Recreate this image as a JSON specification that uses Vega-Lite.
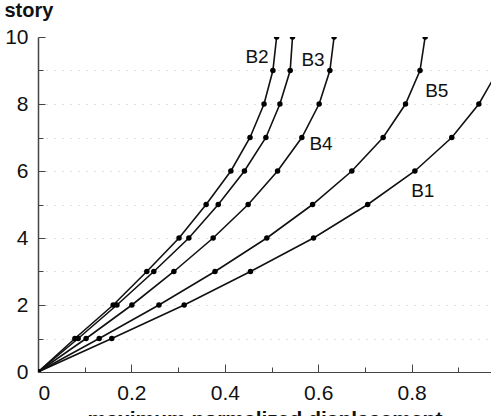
{
  "$schema": "https://vega.github.io/schema/vega-lite/v6.json",
  "autosize": {"type": "none"},
  "padding": {"left": 38, "top": 37, "right": 0, "bottom": 44},
  "width": 453,
  "height": 335,
  "config": {
    "font": "Liberation Sans",
    "view": {"stroke": null},
    "axis": {
      "labelFont": "Liberation Sans",
      "titleFont": "Liberation Sans",
      "labelColor": "#111",
      "titleColor": "#111",
      "domainColor": "#444",
      "tickColor": "#444"
    }
  },
  "datasets": {
    "drift": [
      {"series": "B1", "story": 0, "disp": 0},
      {"series": "B1", "story": 1, "disp": 0.158},
      {"series": "B1", "story": 2, "disp": 0.313},
      {"series": "B1", "story": 3, "disp": 0.455},
      {"series": "B1", "story": 4, "disp": 0.590},
      {"series": "B1", "story": 5, "disp": 0.706},
      {"series": "B1", "story": 6, "disp": 0.807},
      {"series": "B1", "story": 7, "disp": 0.886},
      {"series": "B1", "story": 8, "disp": 0.944},
      {"series": "B1", "story": 9, "disp": 0.985},
      {"series": "B1", "story": 10, "disp": 1.01},
      {"series": "B2", "story": 0, "disp": 0},
      {"series": "B2", "story": 1, "disp": 0.079},
      {"series": "B2", "story": 2, "disp": 0.161},
      {"series": "B2", "story": 3, "disp": 0.233},
      {"series": "B2", "story": 4, "disp": 0.302},
      {"series": "B2", "story": 5, "disp": 0.360},
      {"series": "B2", "story": 6, "disp": 0.413},
      {"series": "B2", "story": 7, "disp": 0.454},
      {"series": "B2", "story": 8, "disp": 0.484},
      {"series": "B2", "story": 9, "disp": 0.503},
      {"series": "B2", "story": 10, "disp": 0.511},
      {"series": "B3", "story": 0, "disp": 0},
      {"series": "B3", "story": 1, "disp": 0.086},
      {"series": "B3", "story": 2, "disp": 0.169},
      {"series": "B3", "story": 3, "disp": 0.248},
      {"series": "B3", "story": 4, "disp": 0.323},
      {"series": "B3", "story": 5, "disp": 0.386},
      {"series": "B3", "story": 6, "disp": 0.442},
      {"series": "B3", "story": 7, "disp": 0.488},
      {"series": "B3", "story": 8, "disp": 0.518},
      {"series": "B3", "story": 9, "disp": 0.540},
      {"series": "B3", "story": 10, "disp": 0.545},
      {"series": "B4", "story": 0, "disp": 0},
      {"series": "B4", "story": 1, "disp": 0.103},
      {"series": "B4", "story": 2, "disp": 0.201},
      {"series": "B4", "story": 3, "disp": 0.291},
      {"series": "B4", "story": 4, "disp": 0.375},
      {"series": "B4", "story": 5, "disp": 0.450},
      {"series": "B4", "story": 6, "disp": 0.513},
      {"series": "B4", "story": 7, "disp": 0.565},
      {"series": "B4", "story": 8, "disp": 0.602},
      {"series": "B4", "story": 9, "disp": 0.625},
      {"series": "B4", "story": 10, "disp": 0.634},
      {"series": "B5", "story": 0, "disp": 0},
      {"series": "B5", "story": 1, "disp": 0.131},
      {"series": "B5", "story": 2, "disp": 0.259},
      {"series": "B5", "story": 3, "disp": 0.379},
      {"series": "B5", "story": 4, "disp": 0.490},
      {"series": "B5", "story": 5, "disp": 0.588},
      {"series": "B5", "story": 6, "disp": 0.672},
      {"series": "B5", "story": 7, "disp": 0.739},
      {"series": "B5", "story": 8, "disp": 0.787},
      {"series": "B5", "story": 9, "disp": 0.818},
      {"series": "B5", "story": 10, "disp": 0.829}
    ],
    "tags": [
      {"series": "B1", "story": 5.4, "disp": 0.824},
      {"series": "B2", "story": 9.4, "disp": 0.469},
      {"series": "B3", "story": 9.31, "disp": 0.589},
      {"series": "B4", "story": 6.81, "disp": 0.606},
      {"series": "B5", "story": 8.39, "disp": 0.854}
    ]
  },
  "layer": [
    {
      "description": "minor ticks and dotted story grid",
      "data": {"name": "drift"},
      "mark": {"type": "point", "opacity": 0},
      "encoding": {
        "x": {
          "field": "disp", "type": "quantitative",
          "scale": {"domain": [0, 0.97], "nice": false, "zero": false},
          "axis": {
            "orient": "bottom", "values": [0.1, 0.3, 0.5, 0.7, 0.9],
            "labels": false, "title": null, "domain": false, "grid": false,
            "tickSize": -5, "tickWidth": 1
          }
        },
        "y": {
          "field": "story", "type": "quantitative",
          "scale": {"domain": [0, 10], "nice": false},
          "axis": {
            "orient": "left", "values": [1, 2, 3, 4, 5, 6, 7, 8, 9],
            "labels": false, "title": null, "domain": false,
            "tickSize": -5, "tickWidth": 1,
            "grid": true, "gridColor": "#888", "gridDash": [1, 7],
            "gridOpacity": 0.5, "gridWidth": 1
          }
        }
      }
    },
    {
      "description": "frame line along the top story",
      "mark": {"type": "rule", "color": "#333", "strokeWidth": 1},
      "encoding": {"y": {"datum": 10, "type": "quantitative", "axis": null}}
    },
    {
      "description": "displacement profile of each building",
      "data": {"name": "drift"},
      "mark": {"type": "line", "color": "#111", "strokeWidth": 1.6, "clip": true},
      "encoding": {
        "x": {
          "field": "disp", "type": "quantitative",
          "scale": {"domain": [0, 0.97], "nice": false, "zero": false},
          "axis": {
            "orient": "bottom", "values": [0, 0.2, 0.4, 0.6, 0.8],
            "format": "~g", "labelFontSize": 21, "labelPadding": 18,
            "tickSize": -8, "tickWidth": 1, "domainWidth": 1.2, "grid": false,
            "title": "maximum normalized displacement",
            "titleFontSize": 21, "titleFontWeight": "bold",
            "titleBaseline": "alphabetic", "titleY": 53
          }
        },
        "y": {
          "field": "story", "type": "quantitative",
          "scale": {"domain": [0, 10], "nice": false},
          "axis": {
            "orient": "left", "values": [0, 2, 4, 6, 8, 10],
            "labelFontSize": 21, "labelPadding": 17,
            "tickSize": -7, "tickWidth": 1, "domainWidth": 1.5, "grid": false,
            "title": "story", "titleAngle": 0, "titleAlign": "left",
            "titleBaseline": "alphabetic", "titleX": -34, "titleY": -21,
            "titleFontSize": 20, "titleFontWeight": "bold"
          }
        },
        "detail": {"field": "series"},
        "order": {"field": "story", "type": "quantitative"}
      }
    },
    {
      "description": "computed floor values",
      "data": {"name": "drift"},
      "mark": {"type": "circle", "color": "#000", "opacity": 1, "size": 30, "clip": true},
      "encoding": {
        "x": {"field": "disp", "type": "quantitative", "axis": null},
        "y": {"field": "story", "type": "quantitative", "axis": null}
      }
    },
    {
      "description": "building labels",
      "data": {"name": "tags"},
      "mark": {"type": "text", "fontSize": 19, "color": "#111", "align": "center", "baseline": "middle"},
      "encoding": {
        "x": {"field": "disp", "type": "quantitative", "axis": null},
        "y": {"field": "story", "type": "quantitative", "axis": null},
        "text": {"field": "series"}
      }
    }
  ],
  "resolve": {"axis": {"x": "independent", "y": "independent"}}
}
